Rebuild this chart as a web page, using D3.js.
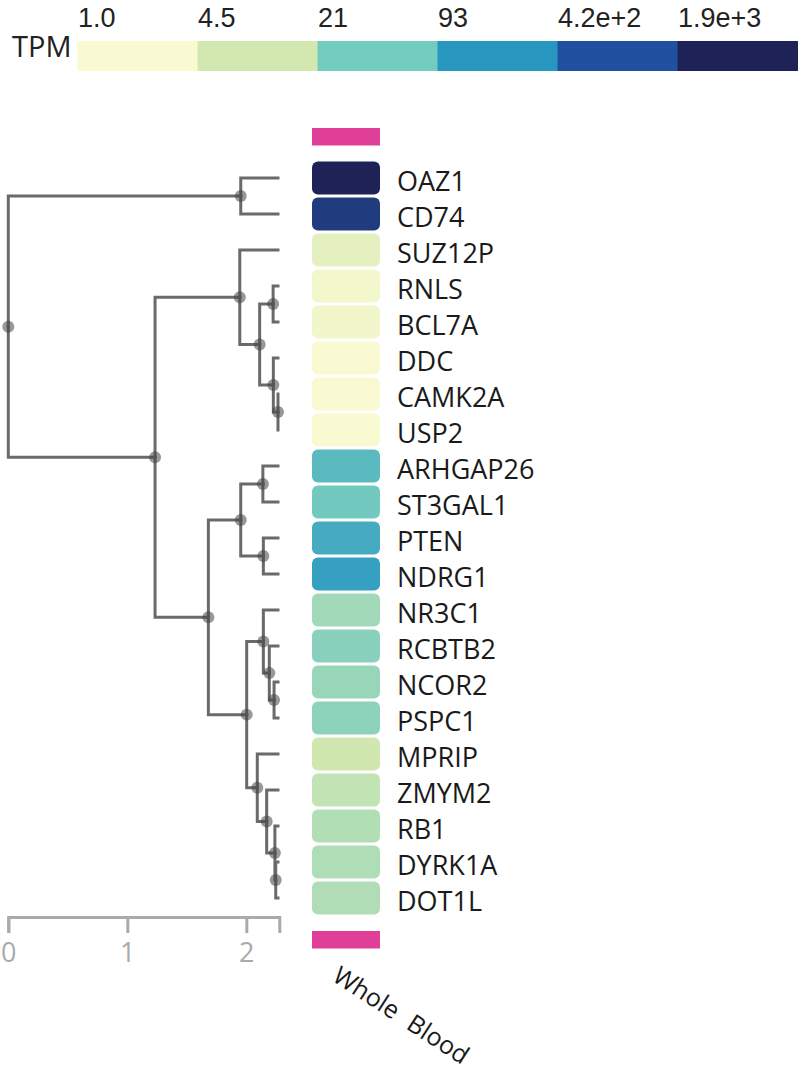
<!DOCTYPE html>
<html>
<head>
<meta charset="utf-8">
<script src="https://cdn.jsdelivr.net/npm/d3@7/dist/d3.min.js"></script>
<style>
  html, body { margin: 0; padding: 0; background: #fff; }
  svg { display: block; }
</style>
</head>
<body>
<svg id="chart" width="800" height="1071"></svg>
<script>
// ---------- data ----------
const genes = ["OAZ1","CD74","SUZ12P","RNLS","BCL7A","DDC","CAMK2A","USP2",
  "ARHGAP26","ST3GAL1","PTEN","NDRG1","NR3C1","RCBTB2","NCOR2","PSPC1",
  "MPRIP","ZMYM2","RB1","DYRK1A","DOT1L"];
const tpm = [1900, 820, 2.25, 1.3, 1.35, 0.97, 1.0, 1.02,
  34, 22, 52, 72, 10, 15, 11.8, 14,
  4.7, 5.9, 7.7, 8.2, 8.0];
const tissue = "Whole Blood";
const legendValues = [1.0, 4.5, 21, 93, 420, 1900];
const legendLabels = ["1.0","4.5","21","93","4.2e+2","1.9e+3"];
const legendColors = ["#fafad2","#d3e8b0","#74cbbf","#2897c0","#2150a0","#1e2256"];
const axisTicks = [0, 1, 2];
// dendrogram merges (left child, right child, position on the distance axis)
const mergeNames = ["n0","n1","n2","n3","n4","n5","n6","n7","n8","n9",
  "n10","n11","n12","n13","n14","n15","n16","n17","n18","n19"];
const mergeLeft  = ["CAMK2A","DDC","RNLS","n2","SUZ12P","OAZ1","ARHGAP26","PTEN","n6","NCOR2",
  "RCBTB2","NR3C1","DYRK1A","RB1","ZMYM2","MPRIP","n11","n8","n4","n5"];
const mergeRight = ["USP2","n0","BCL7A","n1","n3","CD74","ST3GAL1","NDRG1","n7","PSPC1",
  "n9","n10","DOT1L","n12","n13","n14","n15","n16","n17","n18"];
const mergeDist  = [2.266, 2.227, 2.225, 2.112, 1.945, 1.953, 2.139, 2.143, 1.953, 2.233,
  2.193, 2.143, 2.247, 2.240, 2.171, 2.092, 2.003, 1.681, 1.233, 0];
const leafDist = 2.266;
const axisMax = 2.277;

// ---------- setup ----------
const svg = d3.select("#chart");
const textFont = "'Open Sans', 'Liberation Sans', sans-serif";

const color = d3.scaleLog().domain(legendValues).range(legendColors)
  .interpolate(d3.interpolateRgb).clamp(true);

// ---------- legend ----------
const lx = d3.scaleBand().domain(legendLabels).range([77.5, 797.5]).padding(0);
const legend = svg.append("g");
legend.selectAll("rect").data(legendValues).join("rect")
  .attr("x", (d, i) => lx(legendLabels[i]))
  .attr("y", 41)
  .attr("width", lx.bandwidth() + 0.5)
  .attr("height", 30)
  .attr("fill", d => color(d));
legend.selectAll("text.lab").data(legendLabels).join("text")
  .attr("class", "lab")
  .attr("x", d => lx(d) + 0.5)
  .attr("y", 27)
  .attr("font-family", "'Liberation Sans', Arial, sans-serif")
  .attr("font-size", 27)
  .attr("fill", "#222")
  .text(d => d);
legend.append("text")
  .attr("x", 12).attr("y", 57)
  .attr("font-family", textFont)
  .attr("font-size", 29)
  .attr("fill", "#222")
  .text("TPM");

// ---------- heatmap ----------
const y = d3.scaleBand().domain(genes).range([160, 916]).paddingInner(0.08).paddingOuter(0.04);
const cellX = 312, cellW = 68;
const heat = svg.append("g");
heat.selectAll("rect.cell").data(genes).join("rect")
  .attr("class", "cell")
  .attr("x", cellX)
  .attr("y", d => y(d))
  .attr("width", cellW)
  .attr("height", y.bandwidth())
  .attr("rx", 6).attr("ry", 6)
  .attr("fill", (d, i) => color(tpm[i]));
// tissue bars
heat.selectAll("rect.tbar").data([128, 931]).join("rect")
  .attr("class", "tbar")
  .attr("x", cellX).attr("y", d => d)
  .attr("width", cellW).attr("height", 17.5)
  .attr("fill", "#df3f97");
heat.selectAll("text.gene").data(genes).join("text")
  .attr("class", "gene")
  .attr("x", 397)
  .attr("y", d => y(d) + y.bandwidth() / 2 + 12.5)
  .attr("font-family", textFont)
  .attr("font-size", 27)
  .attr("fill", "#1a1a1a")
  .text(d => d);
svg.append("text")
  .attr("transform", "translate(331,980) rotate(33)")
  .attr("font-family", textFont)
  .attr("font-size", 25)
  .attr("fill", "#1a1a1a")
  .attr("word-spacing", 8)
  .text(tissue);

// ---------- dendrogram ----------
const x = d3.scaleLinear().domain([0, axisMax]).range([8.3, 279.3]);
const nodes = {};
genes.forEach(g => { nodes[g] = { name: g, dist: leafDist }; });
mergeNames.forEach((n, i) => {
  nodes[n] = { name: n, dist: mergeDist[i], children: [nodes[mergeLeft[i]], nodes[mergeRight[i]]] };
});
const root = d3.hierarchy(nodes[mergeNames[mergeNames.length - 1]]);
root.eachAfter(nd => {
  nd.px = x(nd.data.dist);
  nd.py = nd.children ? d3.mean(nd.children, c => c.py) : y(nd.data.name) + y.bandwidth() / 2;
});
const dend = svg.append("g");
dend.selectAll("path.link").data(root.links()).join("path")
  .attr("class", "link")
  .attr("d", l => `M${l.source.px},${l.source.py}V${l.target.py}H${l.target.px}`)
  .attr("fill", "none")
  .attr("stroke", "#6a6a6a")
  .attr("stroke-width", 3)
  .attr("stroke-linecap", "square");
dend.selectAll("circle").data(root.descendants().filter(d => d.children)).join("circle")
  .attr("cx", d => d.px).attr("cy", d => d.py)
  .attr("r", 6)
  .attr("fill", "#444")
  .attr("fill-opacity", 0.55);

// axis
const axis = d3.axisBottom(x).tickValues(axisTicks).tickSize(16).tickSizeOuter(16).tickPadding(10)
  .tickFormat(d3.format("d"));
const ag = svg.append("g").attr("transform", "translate(0,917)").call(axis);
ag.select(".domain").attr("stroke", "#aaa").attr("stroke-width", 3);
ag.selectAll(".tick line").attr("stroke", "#aaa").attr("stroke-width", 3);
ag.selectAll(".tick text")
  .attr("font-family", textFont)
  .attr("font-size", 27)
  .attr("fill", "#aaa");
</script>
</body>
</html>
